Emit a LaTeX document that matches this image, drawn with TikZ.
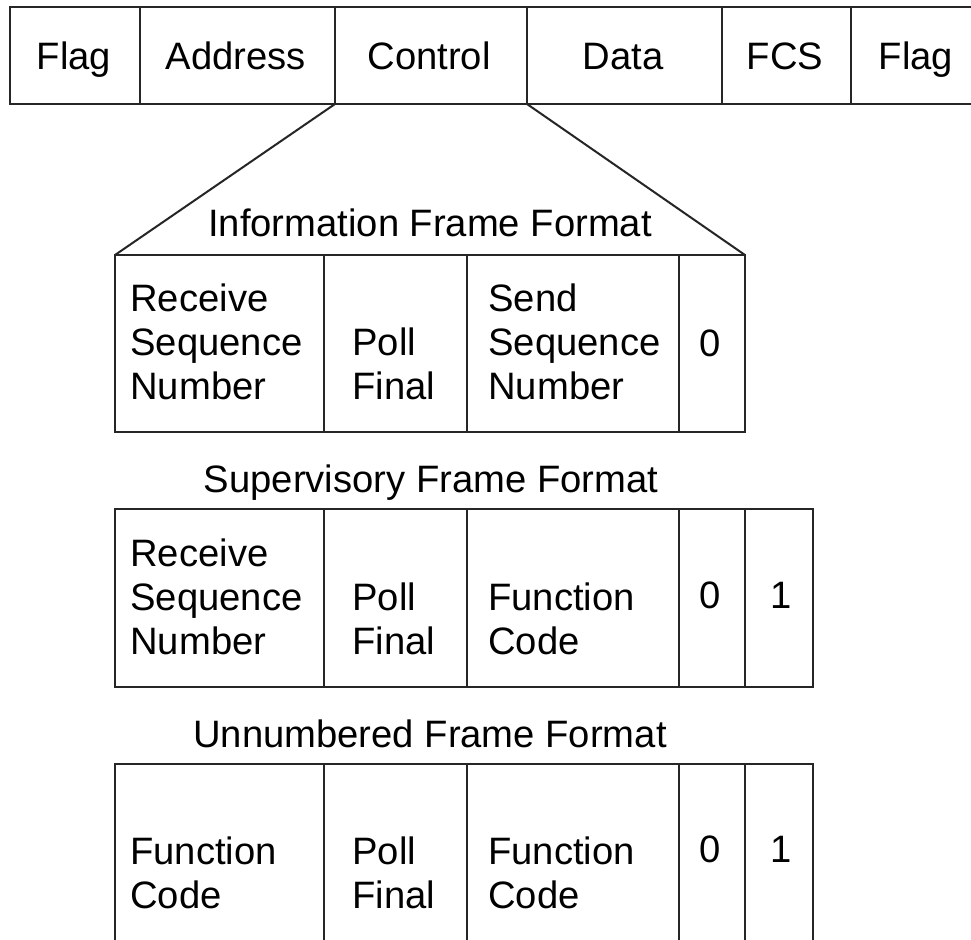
\documentclass[tikz,border=0pt]{standalone}
\usepackage{fontspec}
\setmainfont{Liberation Sans}
\usetikzlibrary{fit}
\begin{document}
\begin{tikzpicture}[x=0.5pt,y=-0.5pt,
  cell/.style={draw=black!85,line width=1pt,inner sep=0pt,outer sep=0pt},
  conn/.style={draw=black!85,line width=1pt},
  txt/.style={inner sep=0pt,font=\fontsize{19.1}{22}\selectfont},
  lt/.style={txt,align=left,anchor=west},
  bt/.style={txt,anchor=base}]
\clip (0,0) rectangle (971,939);
\fill[white] (0,0) rectangle (971,939);
% HDLC frame
\node[cell,fit={(10,7) (140,104)}] (f1) {};
\node[cell,fit={(140,7) (335,104)}] (ad) {};
\node[cell,fit={(335,7) (527,104)}] (ctrl) {};
\node[cell,fit={(527,7) (722,104)}] (da) {};
\node[cell,fit={(722,7) (851,104)}] (fcs) {};
\node[cell,fit={(851,7) (985,104)}] (f2) {};
\node[bt] (tf1) at (74,69) {Flag};
\node[bt] (tad) at (236,69) {Address};
\node[bt] (tct) at (429,69) {Control};
\node[bt] (tda) at (623,69) {Data};
\node[bt] (tfc) at (785,69) {FCS};
\node[bt] (tf2) at (916,69) {Flag};
% Information frame
\node[bt] (ti) at (430,236) {Information Frame Format};
\node[cell,fit={(115,255) (324,432)}] (i1) {};
\node[cell,fit={(324,255) (467,432)}] (i2) {};
\node[cell,fit={(467,255) (679,432)}] (i3) {};
\node[cell,fit={(679,255) (745,432)}] (i4) {};
\node[lt] (i1t) at (130,342) {Receive\\Sequence\\Number};
\node[lt] (i2t) at (352,364) {Poll\\Final};
\node[lt] (i3t) at (488,342) {Send\\Sequence\\Number};
\node[bt] (i4t) at (710,356) {0};
\draw[conn] (ctrl.south west) -- (i1.north west);
\draw[conn] (ctrl.south east) -- (i4.north east);
% Supervisory frame
\node[bt] (ts) at (431,492) {Supervisory Frame Format};
\node[cell,fit={(115,509) (324,687)}] (s1) {};
\node[cell,fit={(324,509) (467,687)}] (s2) {};
\node[cell,fit={(467,509) (679,687)}] (s3) {};
\node[cell,fit={(679,509) (745,687)}] (s4) {};
\node[cell,fit={(745,509) (813,687)}] (s5) {};
\node[lt] (s1t) at (130,597) {Receive\\Sequence\\Number};
\node[lt] (s2t) at (352,619) {Poll\\Final};
\node[lt] (s3t) at (488,619) {Function\\Code};
\node[bt] (s4t) at (710,608) {0};
\node[bt] (s5t) at (781,608) {1};
% Unnumbered frame
\node[bt] (tu) at (430,747) {Unnumbered Frame Format};
\node[cell,fit={(115,764) (324,990)}] (u1) {};
\node[cell,fit={(324,764) (467,990)}] (u2) {};
\node[cell,fit={(467,764) (679,990)}] (u3) {};
\node[cell,fit={(679,764) (745,990)}] (u4) {};
\node[cell,fit={(745,764) (813,990)}] (u5) {};
\node[lt] (u1t) at (130,873) {Function\\Code};
\node[lt] (u2t) at (352,873) {Poll\\Final};
\node[lt] (u3t) at (488,873) {Function\\Code};
\node[bt] (u4t) at (710,862) {0};
\node[bt] (u5t) at (781,862) {1};
\end{tikzpicture}
\end{document}
